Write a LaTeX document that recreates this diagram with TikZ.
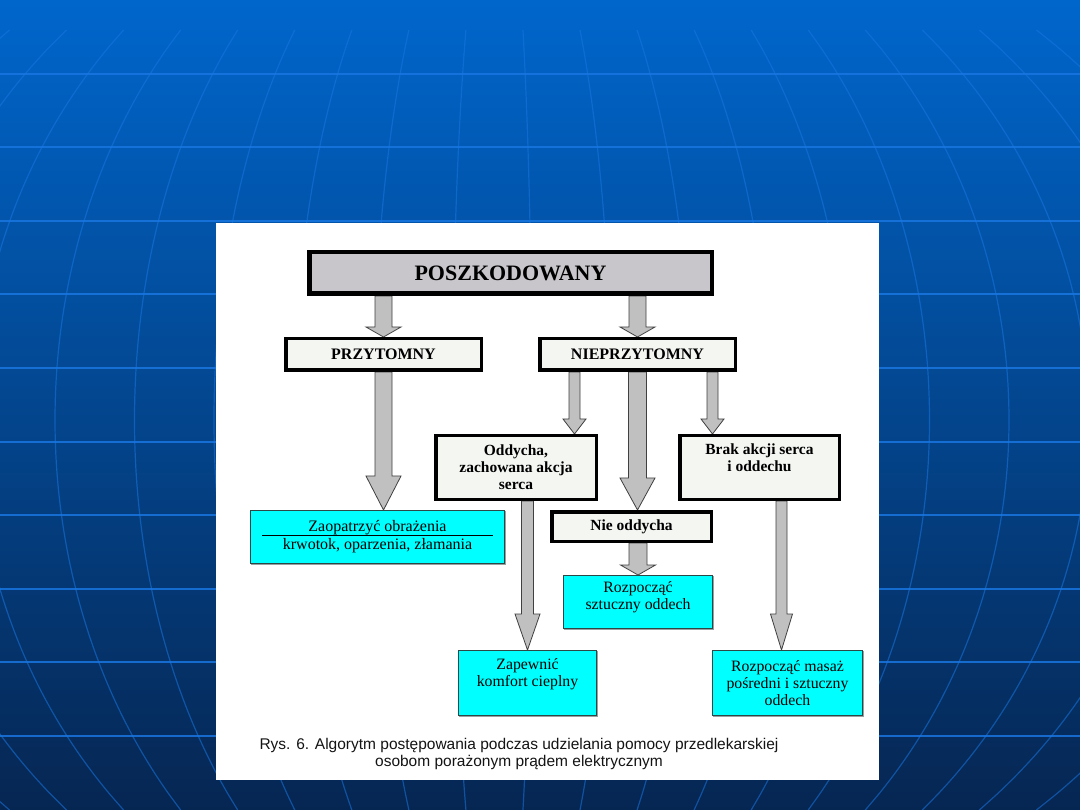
\documentclass[tikz,border=0pt]{standalone}
\usepackage{fontspec}
\setmainfont{Liberation Serif}
\newfontfamily\capfont{Liberation Sans}
\usetikzlibrary{calc}
\definecolor{bgtop}{RGB}{0,102,204}
\definecolor{bgmid}{RGB}{0,74,148}
\definecolor{bgbot}{RGB}{6,38,82}
\definecolor{gridc}{RGB}{25,118,225}
\definecolor{topfill}{RGB}{200,198,202}
\definecolor{boxfill}{RGB}{244,246,242}
\definecolor{cyanfill}{RGB}{0,255,255}
\definecolor{arrfill}{RGB}{192,192,192}
\definecolor{arrline}{RGB}{64,64,64}
\definecolor{cyanline}{RGB}{45,70,70}
\definecolor{cyanshadow}{RGB}{150,160,160}
\definecolor{captext}{RGB}{20,20,20}
\pgfdeclarelayer{back}
\pgfdeclarelayer{arrows}
\pgfsetlayers{back,arrows,main}
\newcommand\blockarr[5]{%
  \path[arrowshape] let \p1=(#1), \p2=(#2) in
    (\x1-#3pt,\y1) -- (\x1-#3pt,\y2+#5pt) -- (\x1-#4pt,\y2+#5pt) -- (\x1,\y2)
    -- (\x1+#4pt,\y2+#5pt) -- (\x1+#3pt,\y2+#5pt) -- (\x1+#3pt,\y1) -- cycle;}
\begin{document}
\begin{tikzpicture}[x=1pt,y=-1pt,
  topbox/.style={draw=black, line width=4.5pt, fill=topfill, inner sep=0pt,
    font=\fontsize{22}{25}\selectfont\bfseries},
  greybox/.style={draw=black, line width=3.5pt, fill=boxfill, inner sep=0pt, align=center,
    font=\fontsize{15.5}{17}\selectfont\bfseries},
  cyanbox/.style={draw=cyanline, line width=1.2pt, fill=cyanfill, inner sep=0pt, align=center,
    font=\fontsize{15.8}{17}\selectfont,
    preaction={draw=cyanshadow, line width=1.2pt, transform canvas={xshift=1pt,yshift=-1pt}}},
  arrowshape/.style={draw=arrline, line width=0.8pt, fill=arrfill, line join=miter},
  captxt/.style={font=\capfont\fontsize{15.5}{17}\selectfont, text=captext, inner sep=0pt},
  hline/.style={draw=gridc, line width=2pt, opacity=0.85},
  mline/.style={draw=gridc, line width=1.2pt, opacity=0.55}
]
\useasboundingbox (0,0) rectangle (1080,810);
\begin{pgfonlayer}{back}
  \begin{scope}
    \clip (0,0) rectangle (1080,810);
    \shade[top color=bgtop, middle color=bgmid, bottom color=bgbot] (0,0) rectangle (1080,810);
    \foreach \k in {-4,...,17} {
      \pgfmathsetmacro\dd{55+79.5*\k-500}
      \draw[mline] plot[domain=30:810, samples=45, variable=\t, smooth]
        ({500+\dd*sqrt(1-((\t-420)/560)^2)}, \t);
    }
    \foreach \k in {1,...,10} {
      \draw[hline] (0,73.6*\k) -- (1080,73.6*\k);
    }
  \end{scope}
  \fill[white] (216,223) rectangle (879,780);
\end{pgfonlayer}

% boxes
\node[topbox, minimum width=402.5pt, minimum height=41.5pt] (poszk) at (510.5,273) {POSZKODOWANY};
\node[greybox, minimum width=195.5pt, minimum height=31.5pt, font=\fontsize{16}{17}\selectfont\bfseries] (przyt) at (383.5,354.5) {PRZYTOMNY};
\node[greybox, minimum width=195.5pt, minimum height=31.5pt, font=\fontsize{16}{17}\selectfont\bfseries] (nieprz) at (637.5,354.5) {NIEPRZYTOMNY};
\node[greybox, minimum width=160.5pt, minimum height=63.5pt] (oddy) at (516,467.5) {Oddycha,\\zachowana akcja\\serca};
\node[greybox, minimum width=159.5pt, minimum height=63.5pt] (brak) at (759.5,467.5) {Brak akcji serca\\i oddechu\\[-3pt]\strut};
\node[greybox, minimum width=159.5pt, minimum height=29.5pt] (nieodd) at (631.5,526.5) {Nie oddycha};
\node[cyanbox, minimum width=253.8pt, minimum height=52.8pt, font=\fontsize{16}{18}\selectfont] (zaop) at (377.5,537) {Zaopatrzyć obrażenia\\krwotok, oparzenia, złamania};
\draw[line width=0.9pt, black] ([xshift=12pt,yshift=2pt]zaop.west) -- ([xshift=-12pt,yshift=2pt]zaop.east);
\node[cyanbox, minimum width=148.8pt, minimum height=52.8pt] (rozp) at (638,602) {Rozpocząć\\sztuczny oddech\\[-9pt]\strut};
\node[cyanbox, minimum width=137.8pt, minimum height=64.8pt] (zapew) at (527.5,683) {Zapewnić\\komfort cieplny\\[-2pt]\strut};
\node[cyanbox, minimum width=149.8pt, minimum height=64.8pt] (masaz) at (787.5,683) {Rozpocząć masaż\\pośredni i sztuczny\\oddech};

% arrows
\begin{pgfonlayer}{arrows}
  \blockarr{poszk.south -| przyt.north}{przyt.north}{8.5}{17.5}{10}
  \blockarr{poszk.south -| nieprz.north}{nieprz.north}{8.5}{17.5}{10}
  \blockarr{przyt.south}{zaop.north}{8.5}{17.5}{34}
  \blockarr{[xshift=-63pt]nieprz.south}{oddy.north}{5.5}{11.5}{15}
  \blockarr{nieprz.south}{nieodd.north}{9}{17.5}{32}
  \blockarr{[xshift=75pt]nieprz.south}{brak.north}{5.5}{11.5}{15}
  \blockarr{oddy.south -| zapew.north}{zapew.north}{6}{12.5}{36}
  \blockarr{nieodd.south -| rozp.north}{rozp.north}{9}{17.5}{10}
  \blockarr{[xshift=22pt]brak.south}{masaz.north}{5.5}{11}{36}
\end{pgfonlayer}

% caption
\node[captxt] (cap1) at (519,745) {Rys. 6. Algorytm postępowania podczas udzielania pomocy przedlekarskiej};
\node[captxt] (cap2) at (519,762) {osobom porażonym prądem elektrycznym};
\end{tikzpicture}
\end{document}
